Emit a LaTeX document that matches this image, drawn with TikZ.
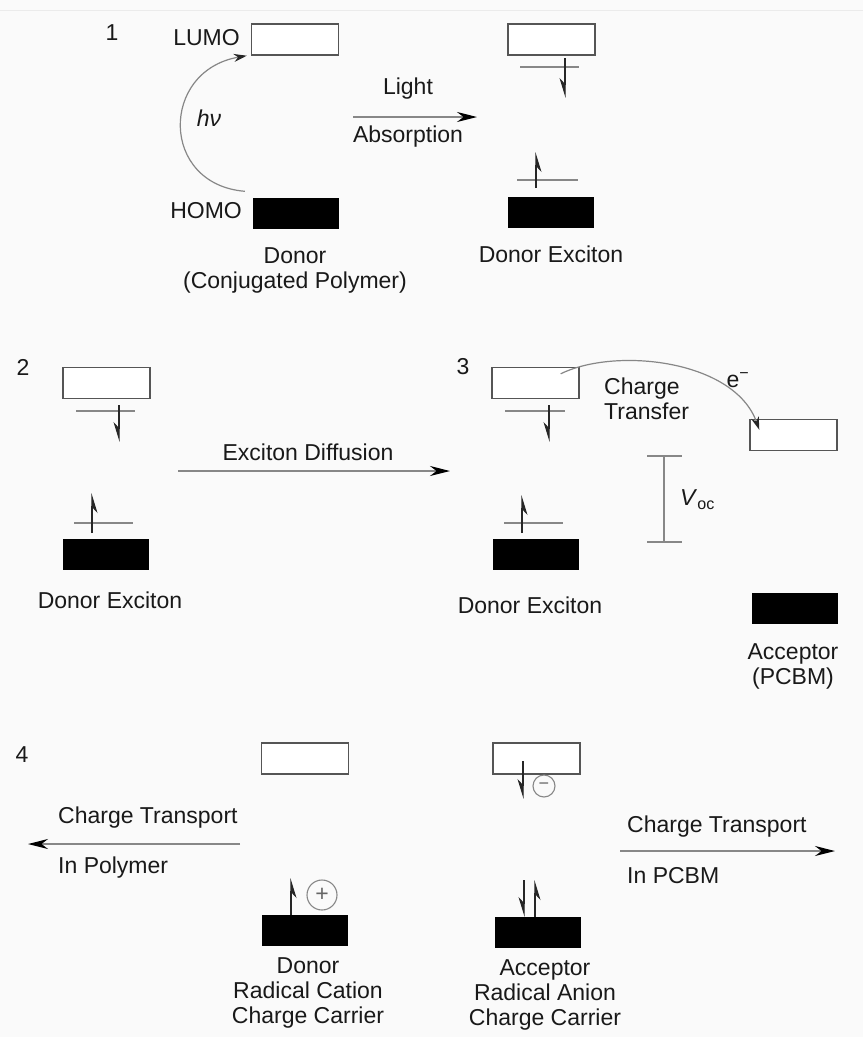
\documentclass[tikz,border=0pt]{standalone}
\usepackage{fontspec}
\setmainfont{Liberation Sans}
\usetikzlibrary{arrows.meta}
\definecolor{bgc}{RGB}{250,250,250}
\definecolor{boxline}{RGB}{85,85,85}
\definecolor{arrowline}{RGB}{135,135,135}
\begin{document}
\begin{tikzpicture}[
		x=1pt, y=-1pt,
		lumo/.style={rectangle, draw=boxline, fill=white, line width=1.4pt, minimum width=87pt, minimum height=31pt, inner sep=0pt},
		homo/.style={rectangle, fill=black, minimum width=86pt, minimum height=31pt, inner sep=0pt},
		lbl/.style={text=black!90, font=\fontsize{23}{25}\selectfont, inner sep=1pt, align=center},
		lvl/.style={draw=arrowline, line width=1.2pt},
		spin/.style={-{Stealth[harpoon, swap, length=18pt, width=11pt]}, line width=1.2pt, black!85},
		flow/.style={-{Stealth[length=20pt, width=10pt, color=black]}, draw=arrowline, line width=1.4pt},
		jump/.style={-{Stealth[length=13pt, width=8pt, color=black!85]}, draw=arrowline, line width=1.2pt},
		charge/.style={circle, draw=arrowline, line width=1.1pt, inner sep=0pt, text=black!60}
		]
		
		\fill[bgc] (0, 0) rectangle (863, 1037);
		\useasboundingbox (0, 0) rectangle (863, 1037);
		\draw[black!8, line width=0.8pt] (0, 10) -- (863, 10);
		
		%Nodes
		\node[lbl]	(num1)	at (112, 33)	{1};
		\node[lumo]	(lumo1)	at (295, 39.5)	{};
		\node[homo]	(homo1)	at (296, 213)	{};
		\node[lbl, anchor=east]	(lumotxt)	at (241, 38)	{LUMO};
		\node[lbl, anchor=east]	(homotxt)	at (243, 211)	{HOMO};
		\node[lbl]	(hv)	at (209, 118)	{\textit{hν}};
		\node[lbl]	(donor1)	at (295, 270)	{Donor\\(Conjugated Polymer)};
		\coordinate	(abs1)	at (353, 117);
		\coordinate	(abs2)	at (477, 117);
		\node[lbl]	(light)	at (408, 89)	{Light};
		\node[lbl]	(absorb)	at (408, 137)	{Absorption};
		\node[lumo]	(ex1l)	at (551.5, 39.5)	{};
		\node[homo]	(ex1h)	at (550.5, 212.5)	{};
		\node[lbl]	(ex1txt)	at (551, 254)	{Donor Exciton};
		
		\node[lbl]	(num2)	at (23, 367)	{2};
		\node[lumo]	(ex2l)	at (106.5, 383)	{};
		\node[homo]	(ex2h)	at (105.5, 554.5)	{};
		\node[lbl]	(ex2txt)	at (110, 600)	{Donor Exciton};
		\coordinate	(dif1)	at (178, 471);
		\coordinate	(dif2)	at (450, 471);
		\node[lbl]	(diftxt)	at (308, 452)	{Exciton Diffusion};
		
		\node[lbl]	(num3)	at (463, 367)	{3};
		\node[lumo]	(ex3l)	at (535.5, 383)	{};
		\node[homo]	(ex3h)	at (535.5, 554.5)	{};
		\node[lbl]	(ex3txt)	at (530, 605)	{Donor Exciton};
		\node[lumo]	(acc3l)	at (793.5, 435)	{};
		\node[homo]	(acc3h)	at (794.5, 608.5)	{};
		\node[lbl]	(acc3txt)	at (793, 666)	{Acceptor\\(PCBM)};
		\node[lbl, anchor=west, align=left]	(cttxt)	at (603, 398.5)	{Charge\\Transfer};
		\node[lbl]	(elec)	at (738, 380)	{e\textsuperscript{−}};
		\coordinate	(voct)	at (664, 456);
		\coordinate	(vocb)	at (664, 542);
		\node[lbl, anchor=west]	(voc)	at (679, 500)	{\textit{V}\textsubscript{oc}};
		
		\node[lbl]	(num4)	at (22, 755)	{4};
		\node[lumo]	(don4l)	at (305, 758.5)	{};
		\node[homo]	(don4h)	at (305, 930.5)	{};
		\node[lumo]	(acc4l)	at (536.5, 758.5)	{};
		\node[homo]	(acc4h)	at (538, 932)	{};
		\node[charge, minimum size=30pt, font=\fontsize{23}{23}\selectfont]	(plus)	at (322, 895)	{+};
		\node[charge, minimum size=22pt, font=\fontsize{18}{18}\selectfont]	(minus)	at (544, 786)	{−};
		\node[lbl]	(don4txt)	at (308, 993)	{Donor\\Radical Cation\\Charge Carrier};
		\node[lbl]	(acc4txt)	at (545, 995)	{Acceptor\\Radical Anion\\Charge Carrier};
		\coordinate	(ctl1)	at (240, 844);
		\coordinate	(ctl2)	at (28, 844);
		\node[lbl, anchor=west]	(ctltxt)	at (57, 818)	{Charge Transport};
		\node[lbl, anchor=west]	(inpoly)	at (57, 868)	{In Polymer};
		\coordinate	(ctr1)	at (620, 851);
		\coordinate	(ctr2)	at (835, 851);
		\node[lbl, anchor=west]	(ctrtxt)	at (626, 827)	{Charge Transport};
		\node[lbl, anchor=west]	(inpcbm)	at (626, 876)	{In PCBM};
		
		%Lines
		\draw[jump] ([shift={(-8,-6)}]homo1.north west) .. controls +(-85,-7) and +(-87,15) .. ([shift={(-4,0)}]lumo1.south west);
		\draw[flow] (abs1) -- (abs2);
		\draw[flow] (dif1) -- (dif2);
		\draw[jump] ([shift={(-19,7)}]ex3l.north east) .. controls +(55,-27) and +(-25,-70) .. ([shift={(10,11)}]acc3l.north west);
		\draw[lvl] (voct) -- (vocb);
		\draw[lvl] ([xshift=-17]voct) -- ([xshift=18]voct);
		\draw[lvl] ([xshift=-17]vocb) -- ([xshift=18]vocb);
		\draw[flow] (ctl1) -- (ctl2);
		\draw[flow] (ctr1) -- (ctr2);
		
		%Spins
		\draw[lvl] (520, 67) -- (579, 67);
		\draw[spin] (565, 58) -- (565, 98);
		\draw[lvl] (517, 180) -- (578, 180);
		\draw[spin] (536, 188) -- (536, 152);
		
		\draw[lvl] (76, 411) -- (135, 411);
		\draw[spin] (119, 405) -- (119, 442);
		\draw[lvl] (74, 523) -- (133, 523);
		\draw[spin] (92, 533) -- (92, 493);
		
		\draw[lvl] (505, 411) -- (565, 411);
		\draw[spin] (549, 405) -- (549, 442);
		\draw[lvl] (504, 523) -- (563, 523);
		\draw[spin] (522, 533) -- (522, 495);
		
		\draw[spin] (523, 761) -- (523, 799);
		\draw[spin] (291, 915) -- (291, 878);
		\draw[spin] (524, 880) -- (524, 917);
		\draw[spin] (535, 917) -- (535, 880);
		
	\end{tikzpicture}
\end{document}
